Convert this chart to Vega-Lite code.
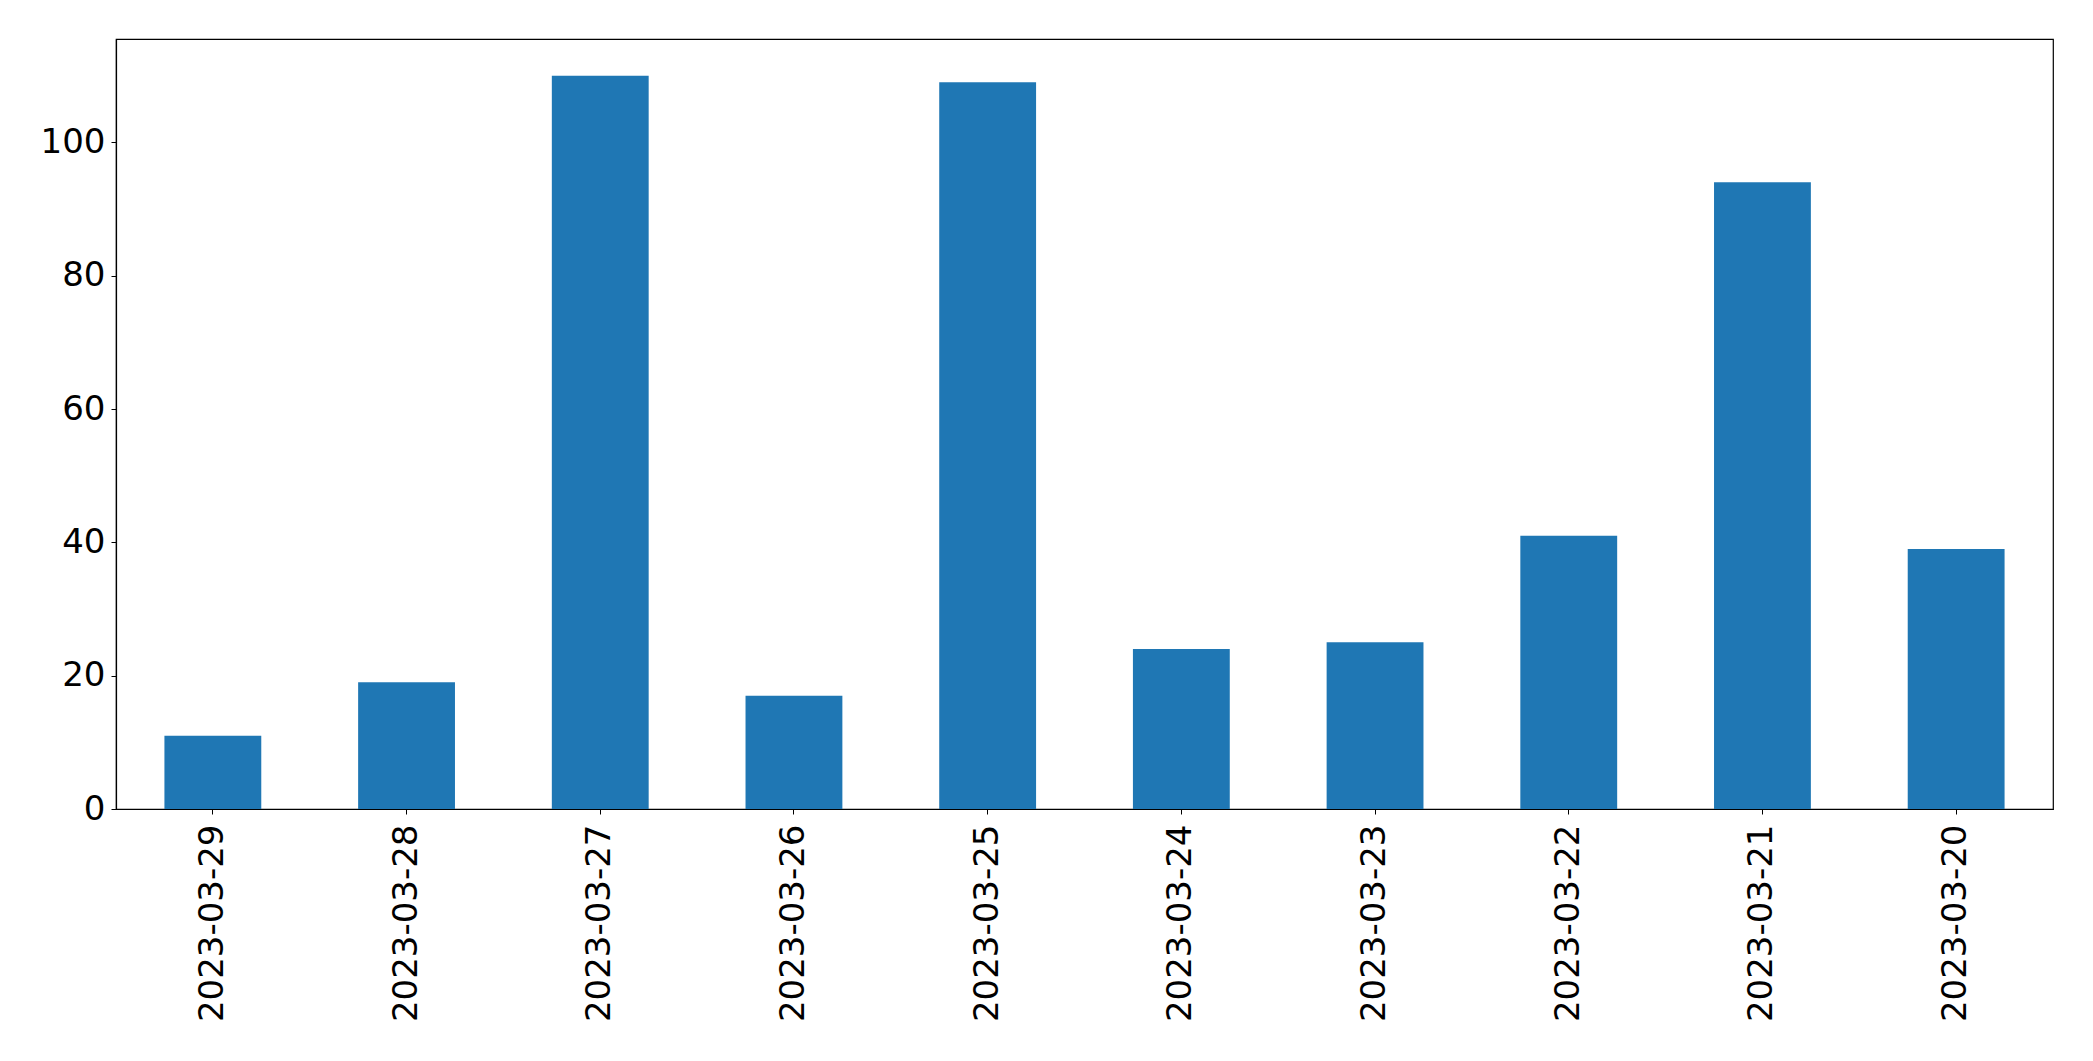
{
  "$schema": "https://vega.github.io/schema/vega-lite/v6.json",
  "autosize": {"type": "none"},
  "padding": {"left": 116, "top": 39, "right": 40, "bottom": 252},
  "width": 1937,
  "height": 770,
  "background": "white",
  "config": {
    "view": {"stroke": "black", "strokeWidth": 1.2},
    "font": "DejaVu Sans"
  },
  "data": {
    "values": [
      {"date": "2023-03-29", "value": 11},
      {"date": "2023-03-28", "value": 19},
      {"date": "2023-03-27", "value": 110},
      {"date": "2023-03-26", "value": 17},
      {"date": "2023-03-25", "value": 109},
      {"date": "2023-03-24", "value": 24},
      {"date": "2023-03-23", "value": 25},
      {"date": "2023-03-22", "value": 41},
      {"date": "2023-03-21", "value": 94},
      {"date": "2023-03-20", "value": 39}
    ]
  },
  "mark": {"type": "bar", "color": "#1f77b4"},
  "encoding": {
    "x": {
      "field": "date",
      "type": "nominal",
      "sort": null,
      "scale": {"paddingInner": 0.5, "paddingOuter": 0.25},
      "axis": {
        "title": null,
        "labelAngle": -90,
        "labelFontSize": 34,
        "labelLimit": 0,
        "labelColor": "black",
        "labelFont": "DejaVu Sans",
        "labelPadding": 10,
        "tickSize": 5,
        "tickColor": "black",
        "domainColor": "black",
        "domainWidth": 1.2,
        "grid": false
      }
    },
    "y": {
      "field": "value",
      "type": "quantitative",
      "scale": {"domain": [0, 115.5], "nice": false},
      "axis": {
        "title": null,
        "values": [0, 20, 40, 60, 80, 100],
        "labelFontSize": 34,
        "labelLimit": 0,
        "labelColor": "black",
        "labelFont": "DejaVu Sans",
        "labelPadding": 6,
        "tickSize": 5,
        "tickColor": "black",
        "domainColor": "black",
        "domainWidth": 1.2,
        "grid": false
      }
    }
  }
}
